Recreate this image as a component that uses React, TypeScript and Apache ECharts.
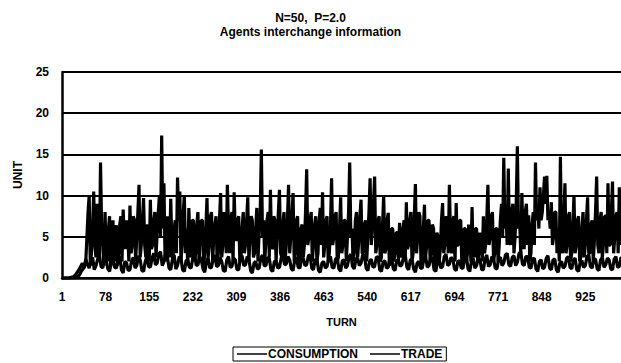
import React, { useEffect, useRef } from "react";
import * as echarts from "echarts";

const TRADE_FIRST_TURN = 1;
const TRADE_STEP = 2;
const CONS_FIRST_TURN = 1;
const CONS_STEP = 3;

// TRADE values (UNIT), one every 2 turns starting at turn 1
const tradeValues: number[] = [
  0, 0, 0, 0, 0, 0, 0, 0, 0, 0, 0, 0, 0, 0.1, 0.2, 0.3, 0.5, 0.8, 1, 1.2, 1.5, 2, 5, 8, 10, 1.5, 3, 6, 10.5, 4, 2.5, 9, 7, 2, 14, 6, 4, 1.5, 8, 3,
  2, 6, 7.5, 1.5, 3, 7, 2, 5, 6.4, 1.5, 3, 6.5, 7.5, 2, 8.3, 5, 3.5, 7, 6, 2, 8.8, 3, 4, 7.5, 7, 2, 5, 8, 11.3, 2.5, 4, 7, 9.7, 4, 2.5, 6.5, 6, 2, 9.5, 3.5,
  4, 7, 8, 2.5, 5.5, 8, 10, 5, 17.3, 6, 11.5, 2, 3, 7.5, 6, 2.5, 9.6, 4, 2, 6, 7, 3, 12.2, 7, 10.5, 2, 4, 8, 10, 3, 6, 1.5, 8.5, 4, 2.5, 7, 7, 2, 3, 6.5,
  8, 2, 5, 7, 7, 1.5, 3, 6, 9.7, 2.5, 4, 7.5, 8, 2, 5, 6.5, 7.5, 1.5, 3, 7, 10.3, 2.5, 4, 8, 7, 3, 11.3, 6, 3, 7, 8, 2, 10.4, 5, 4.5, 7, 7.5, 2, 2.5, 6,
  8, 3, 4, 7, 9.8, 2, 5, 7.5, 7, 2.5, 3, 6, 8.5, 2, 5.5, 8, 15.6, 5, 7, 2, 4.5, 7, 8, 2.5, 10.7, 4, 3.5, 7.5, 7, 2, 5, 8, 10.7, 3, 2.5, 6.5, 8, 2, 4, 7,
  11.3, 3, 5, 7.5, 10.3, 2, 3, 7, 7.5, 1.5, 2, 6, 6.5, 2.5, 4, 8, 13.2, 4, 5, 7, 8, 2, 4, 6.5, 7.5, 2, 3, 7, 8.5, 4, 10.4, 2.5, 4, 7, 7.5, 2, 3, 6, 12.1, 4,
  5, 7.5, 8, 2, 2.5, 6, 9.8, 3, 4, 7, 7, 2, 5, 8, 14, 5, 6, 2, 3, 7, 8, 2.5, 4.5, 7.5, 9.5, 3, 3, 6.5, 7, 2, 5, 8, 12.1, 4, 6, 9, 12.3, 3, 4, 7,
  7.5, 2, 2.5, 6.5, 10, 3, 3.5, 7, 7.9, 1.5, 2, 6, 6, 2, 3, 5.5, 5.5, 2, 6.7, 3, 2.5, 6, 7, 2, 9.2, 3.5, 4, 7, 8, 2, 3, 7.5, 11.4, 3, 5, 8, 7.5, 1.5, 2.5, 6,
  8.9, 2.5, 4, 7, 7, 2, 3, 6.5, 6, 1.5, 2, 5.5, 5, 2, 3.5, 7, 9.1, 3, 4, 7.5, 7, 3, 11.3, 5, 3, 7, 7.5, 2, 9.1, 4, 4, 7, 7, 1.5, 2.5, 6, 6, 2, 3, 6.5,
  5.5, 2, 8.6, 3, 2.5, 6, 6, 2, 3, 5.5, 5, 2, 7.5, 3, 4, 7, 11.3, 4, 5, 7.5, 8, 2, 3, 6, 6, 2, 4, 7, 9, 5, 14.6, 6, 8, 4, 13.3, 5, 4, 8, 9, 3,
  5, 9, 16, 6, 7, 3, 10.3, 5, 3.5, 8, 9, 4, 7.6, 2, 3, 6.5, 8, 4, 14, 7, 9, 6, 11, 7, 8, 10, 12.3, 9, 12.4, 7, 8, 6, 9.2, 4, 5, 8, 8, 3, 6, 2,
  14.7, 4, 3, 7, 11.5, 3, 4, 7.5, 8, 2, 3, 6.5, 10, 3, 4, 7, 7.5, 2, 2.5, 6, 8, 2.5, 4, 7, 9.8, 3, 3, 6.5, 7, 2, 4.5, 8, 12.3, 4, 3, 7, 8, 2.5, 4, 7.5,
  7.5, 3, 11.5, 4, 4, 8, 11.7, 3, 5, 7.5, 8, 3, 11, 4, 6, 8,
];

// CONSUMPTION values (UNIT), one every 3 turns starting at turn 1
const consumptionValues: number[] = [
  0, 0, 0, 0, 0, 0.05, 0.1, 0.2, 0.4, 0.7, 1, 1.4, 1.8, 1.2, 2.3, 1.6, 1.2, 2.1, 2.5, 1, 1.5, 2.3, 2.8, 1.4, 1.2, 2.5, 2.2, 1.1, 0.8, 1.9, 2.4, 1.3, 1.2, 2.2, 2.6, 1, 0.6, 2, 1.8, 0.9,
  1, 2.1, 2.5, 1.2, 1.5, 2.7, 2.2, 0.9, 0.8, 2, 2.6, 1.4, 1.3, 2.4, 3, 1.6, 1.8, 2.9, 3.2, 1.5, 2, 3, 2.6, 1.2, 1, 2.3, 2.8, 1.1, 1.5, 2.6, 2.4, 1, 0.8, 2.1, 2.2, 1.3, 1.2, 2.5, 3, 1.5,
  1.6, 2.6, 2.2, 1.1, 0.7, 1.9, 2.5, 1.2, 1.3, 2.3, 2.8, 1.4, 1.5, 2.5, 2, 0.9, 0.8, 2.2, 2.6, 1.3, 1.4, 2.4, 2.2, 1, 1, 2.5, 2.7, 1.5, 1.6, 2.6, 2.3, 0.9, 0.6, 1.8, 2, 1.1, 1.2, 2.4, 2.8, 1.5,
  1.5, 2.5, 2.4, 1, 0.8, 2, 2.1, 1.2, 1.3, 2.4, 2.9, 1.6, 1.7, 2.6, 2.2, 1.1, 0.9, 2.2, 2.5, 1.3, 1.2, 2.3, 2.4, 1.5, 1.6, 2.7, 2.8, 1.2, 1, 2.2, 2.3, 0.9, 0.7, 1.8, 2, 1.2, 1.4, 2.4, 2.6, 1.3,
  1.2, 2.3, 2.4, 1.1, 0.8, 2.1, 2.2, 1.2, 1.5, 2.6, 2.9, 1.4, 1.1, 2.3, 2.4, 1.5, 1.8, 2.8, 2.7, 1.2, 0.9, 2, 2.3, 1.3, 1.4, 2.5, 2.6, 1, 0.8, 1.9, 2.1, 1.2, 1.3, 2.4, 2.5, 1.1, 0.9, 2.1, 2.2, 1.4,
  1.6, 2.5, 2.8, 1.3, 1, 2.2, 2.3, 1.1, 0.7, 1.8, 2, 1.2, 1.2, 2.4, 2.6, 1.3, 1.5, 2.5, 2.4, 1, 0.8, 2, 2.2, 1.2, 1.4, 2.6, 2.9, 1.5, 1.7, 2.5, 2.3, 1.1, 0.9, 2, 2.1, 1.2, 1.2, 2.4, 2.6, 1.1,
  0.8, 2.1, 2.4, 1.2, 1.5, 2.5, 2.2, 1, 1, 2.3, 2.8, 1.4, 1.6, 2.6, 2.3, 1.2, 1.1, 2.4, 2.5, 1.5, 1.8, 2.8, 3, 1.6, 1.4, 2.5, 2.7, 1.5, 1.9, 3, 3.2, 1.7, 1.5, 2.6, 2.6, 1.3, 1.2, 2.3, 2.4, 1.1,
  0.8, 2, 2.2, 1.1, 1.3, 2.4, 2.7, 1.2, 1, 2.2, 2.3, 1, 0.7, 1.8, 2, 1.2, 1.4, 2.4, 2.6, 1.3, 1.1, 2.2, 2.4, 1, 0.8, 1.9, 2.1, 1.3, 1.5, 2.6, 2.8, 1.4, 1.2, 2.3, 2.3, 1.1, 0.9, 2.2, 2.5, 1.3,
  1.6, 2.4, 2.2, 1.1, 1, 2.3, 2.6, 1.3, 1.4, 2.5, 2.3, 1.2,
];

// Axis settings
const TURN_TICK_INTERVAL = 77; // labels 1, 78, 155, ... 925
const TURN_AXIS_MAX = 988; // last turn visible at the right edge
const UNIT_MAX = 25;
const UNIT_INTERVAL = 5;

const TITLE_LINE_1 = "N=50,  P=2.0";
const TITLE_LINE_2 = "Agents interchange information";
const SERIES_NAMES = ["CONSUMPTION", "TRADE"];

const FONT = "Liberation Sans, Arial, sans-serif";

export default function App() {
  const ref = useRef<HTMLDivElement>(null);

  useEffect(() => {
    if (!ref.current) return;
    const chart = echarts.init(ref.current, undefined, { renderer: "svg" });

    // x is stored as (turn - 1) so that ticks counted from 0 fall on turns 1, 78, 155 ...
    const consData = consumptionValues.map((v, i) => [
      CONS_FIRST_TURN + i * CONS_STEP - 1,
      v,
    ]);
    const tradeData = tradeValues.map((v, i) => [
      TRADE_FIRST_TURN + i * TRADE_STEP - 1,
      v,
    ]);

    const titleStyle = {
      fontFamily: FONT,
      fontSize: 12,
      fontWeight: "bold",
      color: "#000",
    };

    chart.setOption({
      animation: false,
      backgroundColor: "#fff",
      textStyle: { fontFamily: FONT, color: "#000" },
      title: [
        { text: TITLE_LINE_1, left: "center", top: 12, padding: 0, textStyle: titleStyle },
        { text: TITLE_LINE_2, left: "center", top: 26, padding: 0, textStyle: titleStyle },
      ],
      grid: { left: 62, right: 0, top: 72, bottom: 85, containLabel: false },
      legend: {
        data: SERIES_NAMES,
        left: 233,
        top: 347,
        orient: "horizontal",
        icon: "rect",
        itemWidth: 30,
        itemHeight: 1.5,
        itemGap: 12,
        padding: [1, 4, 1, 4],
        borderColor: "#000",
        borderWidth: 1,
        textStyle: {
          fontFamily: FONT,
          fontSize: 12,
          fontWeight: "bold",
          color: "#000",
          padding: [0, 0, 0, -4],
        },
      },
      xAxis: {
        type: "value",
        min: 0,
        max: TURN_AXIS_MAX - 1,
        interval: TURN_TICK_INTERVAL,
        name: "TURN",
        nameLocation: "middle",
        nameGap: 38,
        nameTextStyle: { fontFamily: FONT, fontSize: 11, fontWeight: "bold", color: "#000" },
        axisLine: { show: true, onZero: false, lineStyle: { color: "#000", width: 2.5 } },
        axisTick: { show: false },
        splitLine: { show: false },
        axisLabel: {
          showMaxLabel: false,
          margin: 13,
          fontFamily: FONT,
          fontSize: 12,
          fontWeight: "bold",
          color: "#000",
          formatter: (v: number) => String(v + 1),
        },
      },
      yAxis: {
        type: "value",
        min: 0,
        max: UNIT_MAX,
        interval: UNIT_INTERVAL,
        name: "UNIT",
        nameLocation: "middle",
        nameGap: 38,
        nameTextStyle: { fontFamily: FONT, fontSize: 12, fontWeight: "bold", color: "#000" },
        axisLine: { show: true, lineStyle: { color: "#000", width: 2.5 } },
        axisTick: { show: false },
        splitLine: { show: true, lineStyle: { color: "#000", width: 2 } },
        axisLabel: {
          margin: 13,
          fontFamily: FONT,
          fontSize: 12,
          fontWeight: "bold",
          color: "#000",
        },
      },
      series: [
        {
          name: SERIES_NAMES[0],
          type: "line",
          data: consData,
          showSymbol: false,
          symbol: "none",
          color: "#000",
          lineStyle: { color: "#000", width: 3.2 },
          z: 3,
        },
        {
          name: SERIES_NAMES[1],
          type: "line",
          data: tradeData,
          showSymbol: false,
          symbol: "none",
          color: "#000",
          lineStyle: { color: "#000", width: 3.2 },
          z: 2,
        },
      ],
    });

    return () => chart.dispose();
  }, []);

  return (
    <div
      ref={ref}
      style={{ position: "fixed", left: 0, top: 0, width: 621, height: 363 }}
    />
  );
}
